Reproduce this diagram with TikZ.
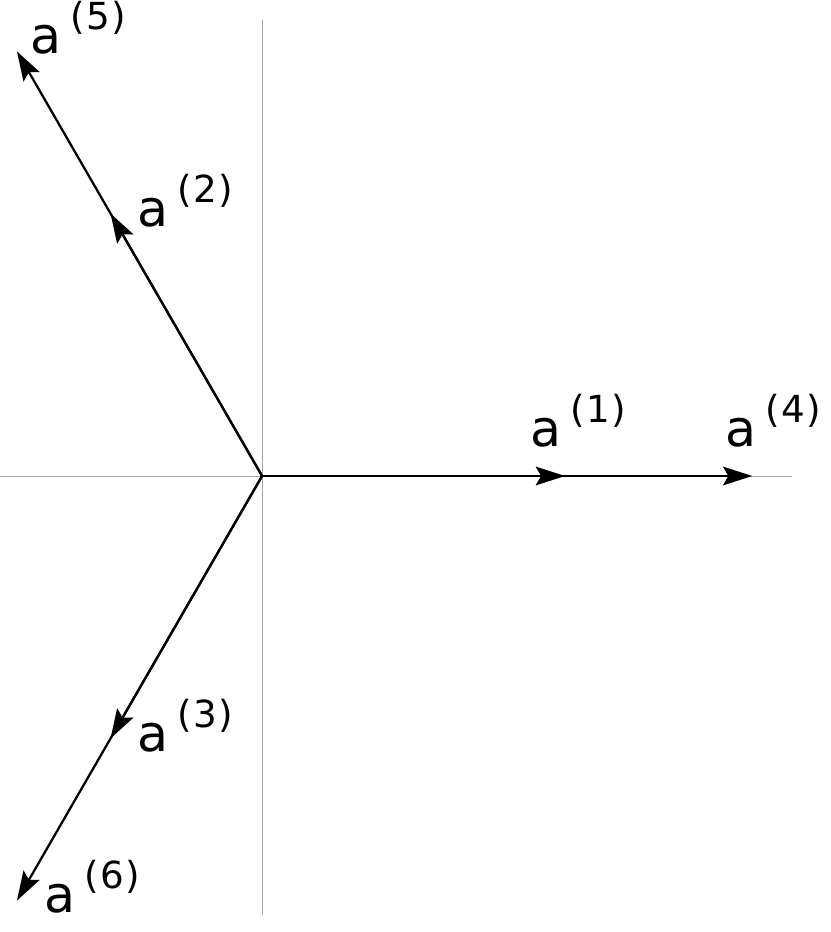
\documentclass[tikz,border=0pt]{standalone}
\usepackage{fontspec}
\setmainfont{DejaVu Sans}
\usetikzlibrary{arrows.meta}

\newcommand{\veclabel}[1]{%
  {\fontsize{38}{40}\selectfont a}\hspace{7pt}%
  \raisebox{18pt}{\fontsize{28}{30}\selectfont(\kern1pt#1\kern1pt)}}

\begin{document}
\begin{tikzpicture}[x=8cm,y=8cm]
    \tikzset{axisline/.style = {draw=gray!70, line width=0.7pt},
             vecline/.style = {draw=black, line width=1.7pt,
                 -{Stealth[length=22pt,width=14pt,inset=4pt]}},
             veclab/.style = {anchor=base west, inner sep=0pt}}
    \useasboundingbox (-0.865,-1.505) rectangle (1.875,1.571);
    % axes
    \coordinate (O) at (0,0);
    \coordinate (xl) at (-0.865,0);
    \coordinate (xr) at (1.749,0);
    \coordinate (yb) at (0,-1.449);
    \coordinate (yt) at (0,1.505);
    \draw[axisline] (xl) -- (xr);
    \draw[axisline] (yb) -- (yt);
    % tips of the vectors
    \coordinate (A1) at (0:1);
    \coordinate (A2) at (120:1);
    \coordinate (A3) at (240:1);
    \coordinate (A4) at (0:1.618);
    \coordinate (A5) at (120:1.618);
    \coordinate (A6) at (240:1.618);
    \draw[vecline] (O) -- (A4);
    \draw[vecline] (O) -- (A5);
    \draw[vecline] (O) -- (A6);
    \draw[vecline] (O) -- (A1);
    \draw[vecline] (O) -- (A2);
    \draw[vecline] (O) -- (A3);
    % labels
    \node[veclab] (L1) at (0.884,0.096) {\veclabel{1}};
    \node[veclab] (L2) at (-0.413,0.825) {\veclabel{2}};
    \node[veclab] (L3) at (-0.413,-0.908) {\veclabel{3}};
    \node[veclab] (L4) at (1.528,0.096) {\veclabel{4}};
    \node[veclab] (L5) at (-0.766,1.393) {\veclabel{5}};
    \node[veclab] (L6) at (-0.719,-1.439) {\veclabel{6}};
  \end{tikzpicture}
\end{document}
